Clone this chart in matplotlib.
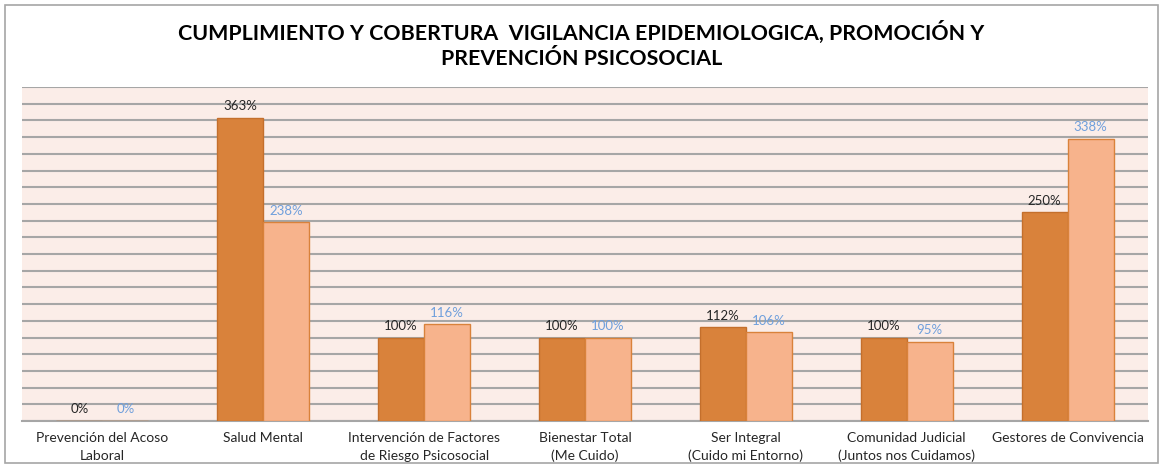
import matplotlib
matplotlib.use("Agg")
import matplotlib.pyplot as plt
import numpy as np
from matplotlib.patches import Rectangle

categories = ["Prevención del Acoso\nLaboral", "Salud Mental",
              "Intervención de Factores\nde Riesgo Psicosocial",
              "Bienestar Total\n(Me Cuido)", "Ser Integral\n(Cuido mi Entorno)",
              "Comunidad Judicial\n(Juntos nos Cuidamos)", "Gestores de Convivencia"]
cumplimiento = [0, 363, 100, 100, 112, 100, 250]
cobertura = [0, 238, 116, 100, 106, 95, 338]

plt.rcParams['font.family'] = ['Lato', 'DejaVu Sans']

fig = plt.figure(figsize=(11.63, 4.68), dpi=100)
fig.patches.append(Rectangle((5/1163, 1-463/468), 1153/1163, 458/468, transform=fig.transFigure,
                             fill=False, edgecolor='#A6A6A6', linewidth=1.2))
ax = fig.add_axes([22/1163, 1-421/468, 1126/1163, 334/468])
ax.set_facecolor('#FBEDE8')

x = np.arange(len(categories))
w = 0.286
b1 = ax.bar(x - w/2, cumplimiento, w, color='#D9823B', edgecolor='#C46F2C', linewidth=1.0, zorder=3)
b2 = ax.bar(x + w/2, cobertura, w, color='#F7B38C', edgecolor='#D9823B', linewidth=1.0, zorder=3)

ax.set_ylim(0, 400)
ax.set_xlim(-0.5, len(categories) - 0.5)
ax.set_yticks(np.arange(0, 401, 20))
ax.yaxis.grid(True, color='#A6A6A6', linewidth=1.5, zorder=0)
ax.tick_params(axis='y', length=0, labelleft=False)
ax.tick_params(axis='x', length=0, pad=8)
ax.set_xticks(x)
ax.set_xticklabels(categories, fontsize=10, color='#262626', linespacing=1.55)
for s in ['top', 'right', 'left']:
    ax.spines[s].set_visible(False)
ax.spines['bottom'].set_color('#A6A6A6')
ax.spines['bottom'].set_linewidth(1.5)

for xi, v in zip(x - w/2, cumplimiento):
    ax.annotate(f"{v}%", (xi, v), xytext=(0, 4), textcoords='offset points',
                ha='center', va='bottom', fontsize=9.5, color='#262626', zorder=4)
for xi, v in zip(x + w/2, cobertura):
    ax.annotate(f"{v}%", (xi, v), xytext=(0, 4), textcoords='offset points',
                ha='center', va='bottom', fontsize=9.5, color='#6F9FDC', zorder=4)

fig.text(0.5, 1-45/468, "CUMPLIMIENTO Y COBERTURA  VIGILANCIA EPIDEMIOLOGICA, PROMOCIÓN Y\nPREVENCIÓN PSICOSOCIAL",
         ha='center', va='center', fontsize=15.4, fontweight='bold', color='#000000', linespacing=1.35)

fig.savefig("out.png", dpi=100)
